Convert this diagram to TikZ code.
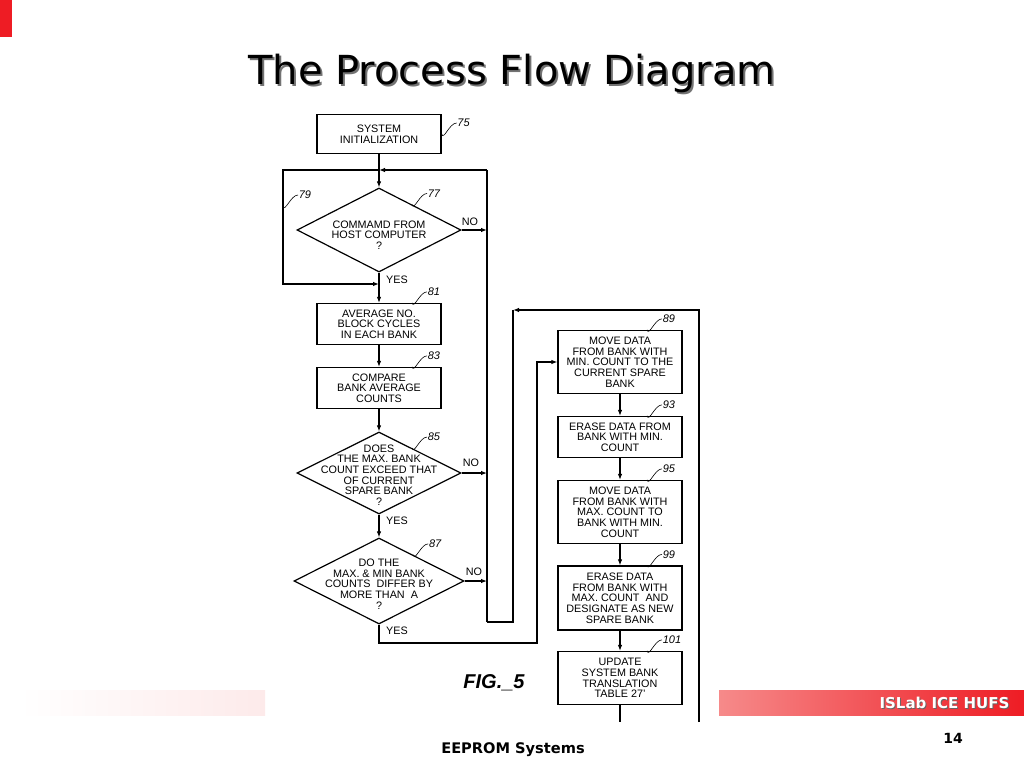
\documentclass[tikz,border=0pt]{standalone}
\usepackage{fontspec}
\setmainfont{Liberation Sans}
\newfontfamily\slidefont{DejaVu Sans}
\usetikzlibrary{calc,arrows.meta,shapes.geometric}

\definecolor{slidered}{RGB}{238,28,36}
\definecolor{barlight}{RGB}{246,138,138}
\definecolor{barpale}{RGB}{253,234,234}

\newcommand{\boxfont}{\fontsize{10.8}{10.7}\selectfont}
\newcommand{\tagfont}{\fontsize{11}{12}\selectfont\itshape}
% reference numeral with its little hook line
\newcommand{\tagline}[3]{\draw[line width=0.6pt] #1 to[out=-75,in=180] ++(15,-11) node[numtag] (#2) {#3};}

\tikzset{
  blk/.style={draw,line width=1.3pt,minimum width=124pt,inner sep=2pt,align=center,font=\boxfont},
  dec/.style={draw,diamond,line width=1.2pt,inner sep=0pt},
  flow/.style={line width=1.1pt,-{Latex[length=6pt,width=4.5pt]}},
  wire/.style={line width=1.1pt},
  ans/.style={font=\boxfont,inner sep=1pt},
  numtag/.style={font=\tagfont,inner sep=0.5pt,anchor=west},
}

\begin{document}
\begin{tikzpicture}[x=1pt,y=-1pt]
\useasboundingbox (0,0) rectangle (1024,768);

% slide decoration
\fill[slidered] (0,0) rectangle (12,37);
\shade[left color=white,right color=barpale] (20,690) rectangle (265,715);
\shade[left color=barlight,right color=slidered] (719,690) rectangle (1024,715);
\node[text=black!55,font=\slidefont\fontsize{40}{44}\selectfont] (titleshade) at (514,75) {The Process Flow Diagram};
\node[font=\slidefont\fontsize{40}{44}\selectfont] (title) at (512,73) {The Process Flow Diagram};
\node[anchor=east,text=black!60,font=\slidefont\bfseries\fontsize{15}{17}\selectfont] (labshade) at (1014,704) {ISLab ICE HUFS};
\node[anchor=east,text=white,font=\slidefont\bfseries\fontsize{15}{17}\selectfont] (lab) at (1013,703) {ISLab ICE HUFS};
\node[font=\slidefont\bfseries\fontsize{14}{16}\selectfont] (page) at (953,738) {14};
\node[font=\slidefont\bfseries\fontsize{14.6}{16}\selectfont] (foot) at (513,750) {EEPROM Systems};

% left column
\node[blk,minimum height=39pt] (b75) at (379,134) {SYSTEM\\INITIALIZATION};
\node[dec,minimum width=164pt,minimum height=84pt,
  label={[font=\boxfont,align=center,yshift=-5pt]center:{COMMAMD FROM\\HOST COMPUTER\\?}}] (d77) at (379,230) {};
\node[blk,minimum height=41pt] (b81) at (379,324) {AVERAGE NO.\\BLOCK CYCLES\\IN EACH BANK};
\node[blk,minimum height=41pt] (b83) at (379,388) {COMPARE\\BANK AVERAGE\\COUNTS};
\node[dec,minimum width=164pt,minimum height=82pt,
  label={[font=\boxfont,align=center,yshift=-2pt]center:{DOES\\THE MAX. BANK\\COUNT EXCEED THAT\\OF CURRENT\\SPARE BANK\\?}}] (d85) at (379,473) {};
\node[dec,minimum width=170pt,minimum height=86pt,
  label={[font=\boxfont,align=center,yshift=-3pt]center:{DO THE\\MAX. \& MIN BANK\\COUNTS\ \ DIFFER BY\\MORE THAN\ \ A\\?}}] (d87) at (379,581) {};

% right column
\node[blk,minimum height=63pt] (b89) at (620,362) {MOVE DATA\\FROM BANK WITH\\MIN. COUNT TO THE\\CURRENT SPARE\\BANK};
\node[blk,minimum height=41pt] (b93) at (620,437) {ERASE DATA FROM\\BANK WITH MIN.\\COUNT};
\node[blk,minimum height=63pt] (b95) at (620,512) {MOVE DATA\\FROM BANK WITH\\MAX. COUNT TO\\BANK WITH MIN.\\COUNT};
\node[blk,minimum height=64pt] (b99) at (620,598) {ERASE DATA\\FROM BANK WITH\\MAX. COUNT\ \ AND\\DESIGNATE AS NEW\\SPARE BANK};
\node[blk,minimum height=53pt] (b101) at (620,678) {UPDATE\\SYSTEM BANK\\TRANSLATION\\TABLE 27'};

\node[font=\bfseries\itshape\fontsize{20}{22}\selectfont] (fig) at (494,683) {FIG.\_5};

% routing points
\coordinate (rtop) at (487,170);
\coordinate (rbot) at (487,622);
\coordinate (ltop) at (283,170);
\coordinate (jin) at (379,170);
\coordinate (jy) at (379,284);
\coordinate (st) at (513,310);
\coordinate (sb) at (513,622);
\coordinate (et) at (699,310);
\coordinate (eb) at (699,722);
\coordinate (fb) at (620,722);
\coordinate (yb) at (379,643);
\coordinate (yr) at (537,643);

% connectors
\draw[flow] (b75) -- (d77);
\draw[wire] (rbot) -- (rtop);
\draw[flow] (rtop) -- (jin);
\draw[flow] (jin) -- (ltop) |- (jy);
\draw[flow] (d77.east) -- (d77.east -| rtop);
\draw[flow] (d77.south) -- (b81.north);
\draw[flow] (b81) -- (b83);
\draw[flow] (b83) -- (d85);
\draw[flow] (d85.east) -- (d85.east -| rtop);
\draw[flow] (d85.south) -- (d87.north);
\draw[flow] (d87.east) -- (d87.east -| rtop);
\draw[flow] (d87.south) -- (yb) -- (yr) |- (b89.west);
\draw[flow] (b89) -- (b93);
\draw[flow] (b93) -- (b95);
\draw[flow] (b95) -- (b99);
\draw[flow] (b99) -- (b101);
\draw[wire] (b101.south) -- (fb);
\draw[flow] (eb) -- (et) -- (st);
\draw[wire] (st) -- (sb) -- (rbot);

% yes / no
\node[ans] (no77) at (470,222) {NO};
\node[ans] (no85) at (471,463) {NO};
\node[ans] (no87) at (474,572) {NO};
\node[ans] (yes77) at (397,280) {YES};
\node[ans] (yes85) at (397,521) {YES};
\node[ans] (yes87) at (397,631) {YES};

% reference numerals
\tagline{(b75.east)}{n75}{75}
\tagline{($(d77.north)!0.4!(d77.east)$)}{n77}{77}
\tagline{(283,206)}{n79}{79}
\tagline{($(b81.north)+(33,0)$)}{n81}{81}
\tagline{($(b83.north)+(33,0)$)}{n83}{83}
\tagline{($(d85.north)!0.4!(d85.east)$)}{n85}{85}
\tagline{($(d87.north)!0.4!(d87.east)$)}{n87}{87}
\tagline{($(b89.north)+(27,0)$)}{n89}{89}
\tagline{($(b93.north)+(27,0)$)}{n93}{93}
\tagline{($(b95.north)+(27,0)$)}{n95}{95}
\tagline{($(b99.north)+(27,0)$)}{n99}{99}
\tagline{($(b101.north)+(27,0)$)}{n101}{101}
\end{tikzpicture}
\end{document}
